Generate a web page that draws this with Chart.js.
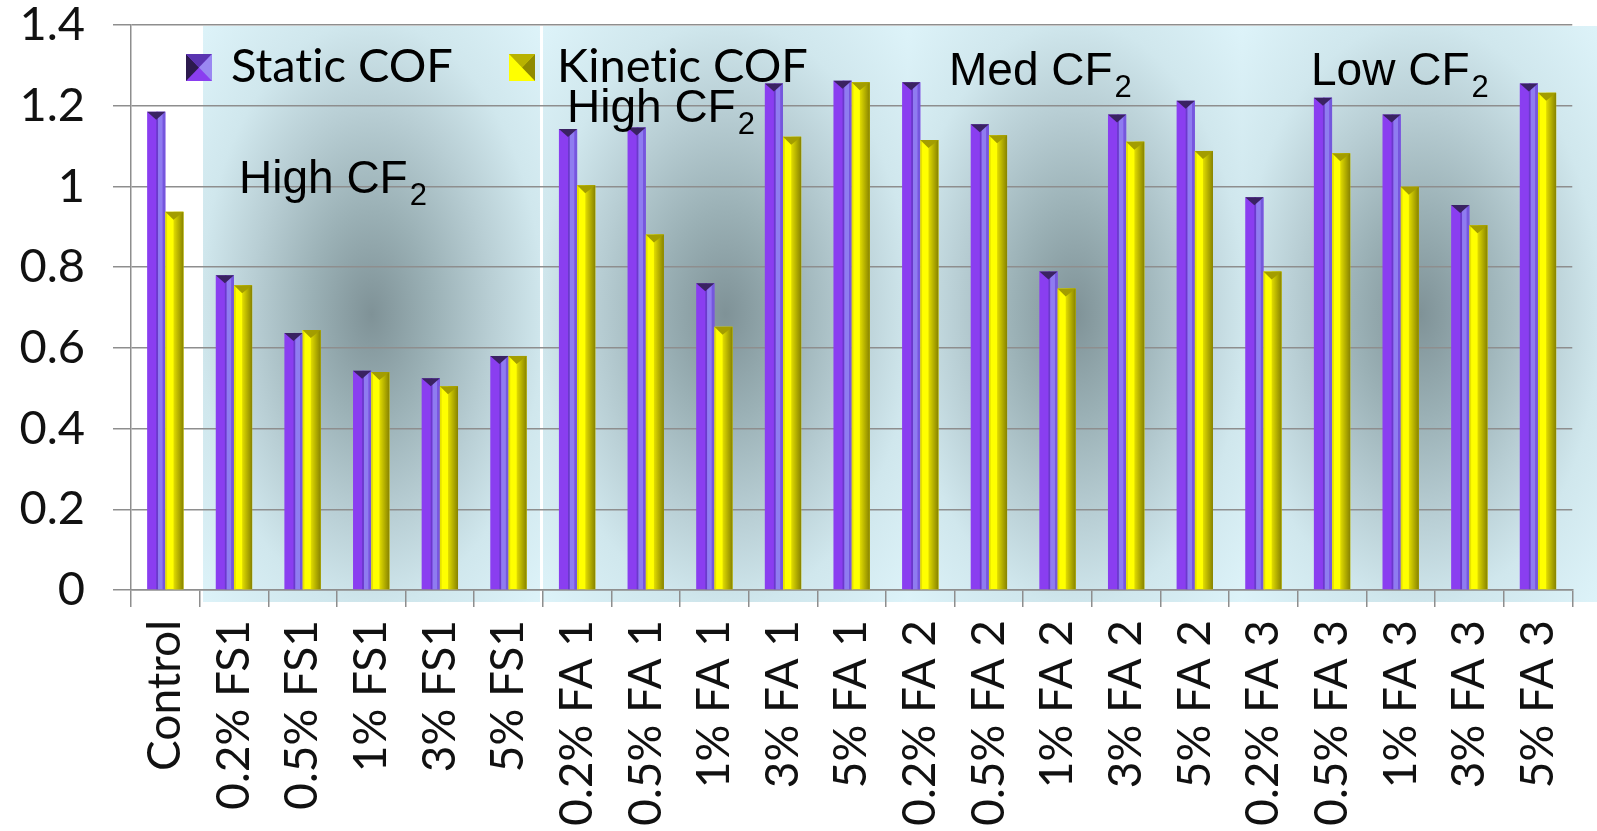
<!DOCTYPE html>
<html>
<head>
<meta charset="utf-8">
<title>COF chart</title>
<script src="https://cdn.jsdelivr.net/npm/chart.js@4.4.0/dist/chart.umd.min.js"></script>
<style>
  html, body { margin: 0; padding: 0; background: #fff; }
  #wrap { width: 1597px; height: 831px; }
</style>
</head>
<body>
<div id="wrap"><canvas id="cof" width="1597" height="831"></canvas></div>
<script>
// --- Data ---
const categories = [
  'Control', '0.2% FS1', '0.5% FS1', '1% FS1', '3% FS1', '5% FS1',
  '0.2% FA 1', '0.5% FA 1', '1% FA 1', '3% FA 1', '5% FA 1',
  '0.2% FA 2', '0.5% FA 2', '1% FA 2', '3% FA 2', '5% FA 2',
  '0.2% FA 3', '0.5% FA 3', '1% FA 3', '3% FA 3', '5% FA 3'
];
const staticCOF = [1.185, 0.78, 0.637, 0.543, 0.525, 0.58, 1.142, 1.146, 0.76, 1.255, 1.262,
  1.258, 1.154, 0.789, 1.178, 1.212, 0.973, 1.22, 1.178, 0.954, 1.255];
const kineticCOF = [0.937, 0.755, 0.644, 0.54, 0.505, 0.58, 1.003, 0.881, 0.652, 1.123, 1.258,
  1.115, 1.127, 0.747, 1.111, 1.088, 0.789, 1.082, 0.999, 0.904, 1.232];
const seriesNames = ['Static COF', 'Kinetic COF'];
const regionLabels = ['High CF', 'High CF', 'Med CF', 'Low CF'];
const yTicks = [0, 0.2, 0.4, 0.6, 0.8, 1, 1.2, 1.4];

// --- Styling helpers ---
const GRID = '#8e8e8e';
const looks = [
  { base: '#8a3ef0', stripes: [[0.5, 0.6, '#6a3acb'], [0.6, 0.86, '#8f7cf0'], [0.86, 1, '#7458dc']], cap: '#3a2262' },
  { base: '#ffff00', stripes: [[0, 0.1, '#e6e200'], [0.45, 1, 'grad']], cap: '#a39d00' }
];

// background panels behind the plot (pixel layout)
const panelEdges = [[203, 540], [543, 908], [908, 1242], [1242, 1597]];
// region label anchors: left x, baseline y
const regionPos = [[239, 193], [567, 122], [949, 85], [1311, 85]];

// no "ti" ligature, like the original
const noLig = s => s.replace(/ti/g, 't\u200Ci');

const panelPlugin = {
  id: 'panels',
  beforeDraw(chart) {
    const { ctx, chartArea } = chart;
    ctx.save();
    ctx.fillStyle = '#fff';
    ctx.fillRect(0, 0, chart.width, chart.height);
    const top = chartArea.top + 1, bottom = chartArea.bottom + 12;
    panelEdges.forEach(([l, r]) => {
      const cx = (l + r) / 2, cy = (top + bottom) / 2;
      ctx.save();
      ctx.beginPath();
      ctx.rect(l, top, r - l, bottom - top);
      ctx.clip();
      ctx.translate(cx, cy);
      ctx.scale((r - l) / 2, (bottom - top) / 2);
      const g = ctx.createRadialGradient(0, 0, 0, 0, 0, Math.SQRT2);
      g.addColorStop(0, '#7f9297');
      g.addColorStop(0.25, '#9ab0b5');
      g.addColorStop(0.5, '#b8ced4');
      g.addColorStop(0.72, '#d0e7ed');
      g.addColorStop(1, '#ddf3f9');
      ctx.fillStyle = g;
      ctx.fillRect(-1, -1, 2, 2);
      ctx.restore();
    });
    ctx.restore();
  }
};

const bevelPlugin = {
  id: 'bevel',
  afterDatasetsDraw(chart) {
    const ctx = chart.ctx;
    ctx.save();
    chart.data.datasets.forEach((ds, di) => {
      const look = looks[di];
      chart.getDatasetMeta(di).data.forEach(bar => {
        const { x, y, base, width } = bar.getProps(['x', 'y', 'base', 'width'], true);
        const l = x - width / 2, h = base - y;
        look.stripes.forEach(([a, b, c]) => {
          if (c === 'grad') {
            const g = ctx.createLinearGradient(l + a * width, 0, l + b * width, 0);
            g.addColorStop(0, '#e2dd00');
            g.addColorStop(1, '#878200');
            ctx.fillStyle = g;
          } else {
            ctx.fillStyle = c;
          }
          ctx.fillRect(l + a * width, y, (b - a) * width, h);
        });
        // pointed cap
        ctx.fillStyle = look.cap;
        ctx.beginPath();
        ctx.moveTo(l, y);
        ctx.lineTo(l + width, y);
        ctx.lineTo(l + width * (di === 0 ? 0.5 : 0.45), y + 8);
        ctx.closePath();
        ctx.fill();
      });
    });
    ctx.restore();
  }
};

const overlayPlugin = {
  id: 'overlay',
  afterDraw(chart) {
    const ctx = chart.ctx;
    ctx.save();
    // region labels
    ctx.fillStyle = '#000';
    ctx.textBaseline = 'alphabetic';
    regionLabels.forEach((txt, i) => {
      const [x, yb] = regionPos[i];
      ctx.font = '46px "Liberation Sans", Arial, sans-serif';
      ctx.fillText(txt, x, yb);
      const w = ctx.measureText(txt).width;
      ctx.font = '31px "Liberation Sans", Arial, sans-serif';
      ctx.fillText('2', x + w + 2, yb + 12);
    });

    // legend
    const items = [[186, 231], [509, 557]];
    chart.data.datasets.forEach((ds, i) => {
      const [ix, tx] = items[i];
      const t = 54, s = 26, hgt = 27;
      const cx = ix + s / 2, cy = t + hgt / 2;
      ctx.fillStyle = ds.backgroundColor;
      ctx.fillRect(ix, t, s, hgt);
      if (i === 0) {
        ctx.fillStyle = '#2c1a4d';
        ctx.beginPath(); ctx.moveTo(ix, t); ctx.lineTo(ix, t + hgt); ctx.lineTo(cx, cy); ctx.fill();
        ctx.fillStyle = '#5a34b0';
        ctx.beginPath(); ctx.moveTo(ix, t); ctx.lineTo(ix + s, t); ctx.lineTo(cx, cy); ctx.fill();
        ctx.fillStyle = '#9a88f2';
        ctx.beginPath(); ctx.moveTo(ix + s, t); ctx.lineTo(ix + s, t + hgt); ctx.lineTo(cx, cy); ctx.fill();
      } else {
        ctx.fillStyle = '#b8b200';
        ctx.beginPath(); ctx.moveTo(ix, t); ctx.lineTo(ix + s, t); ctx.lineTo(cx, cy); ctx.fill();
        ctx.fillStyle = '#8f8a00';
        ctx.beginPath(); ctx.moveTo(ix + s, t); ctx.lineTo(ix + s, t + hgt); ctx.lineTo(cx, cy); ctx.fill();
      }
      ctx.fillStyle = '#000';
      ctx.font = '47px Lato, "Open Sans", sans-serif';
      ctx.fillText(noLig(ds.label), tx, 82);
    });
    ctx.restore();
  }
};

// --- Chart ---
const ctx = document.getElementById('cof').getContext('2d');
new Chart(ctx, {
  type: 'bar',
  data: {
    labels: categories,
    datasets: [
      { label: seriesNames[0], data: staticCOF, backgroundColor: '#8a3ef0' },
      { label: seriesNames[1], data: kineticCOF, backgroundColor: '#ffff00' }
    ]
  },
  options: {
    responsive: false,
    animation: false,
    devicePixelRatio: 1,
    layout: { padding: { top: 25, right: 2, left: 0, bottom: 0 } },
    datasets: { bar: { categoryPercentage: 0.53, barPercentage: 1, borderWidth: 0 } },
    plugins: { legend: { display: false }, tooltip: { enabled: false } },
    scales: {
      x: {
        grid: { drawOnChartArea: false, drawTicks: true, tickLength: 17, color: GRID, lineWidth: 1.5 },
        border: { display: true, color: GRID, width: 1.5 },
        ticks: {
          autoSkip: false, maxRotation: 90, minRotation: 90, padding: 13,
          color: '#111', font: { family: 'Lato', size: 46, lineHeight: 1 }
        },
        afterFit: s => { s.height = 241; }
      },
      y: {
        min: 0, max: 1.4,
        afterBuildTicks: s => { s.ticks = yTicks.map(v => ({ value: v })); },
        grid: { color: GRID, lineWidth: 1.5, tickLength: 18 },
        border: { display: true, color: GRID, width: 1.5 },
        ticks: {
          padding: 28, color: '#111',
          font: { family: 'Lato', size: 47, lineHeight: 1 },
          callback: v => String(+v.toFixed(1))
        },
        // fixed axis width; drop the label half-height padding so the plot top sits at 1.4
        afterFit: s => { s.width = 131; s.paddingTop = 0; s.paddingBottom = 0; }
      }
    }
  },
  plugins: [panelPlugin, bevelPlugin, overlayPlugin]
});
</script>
</body>
</html>
